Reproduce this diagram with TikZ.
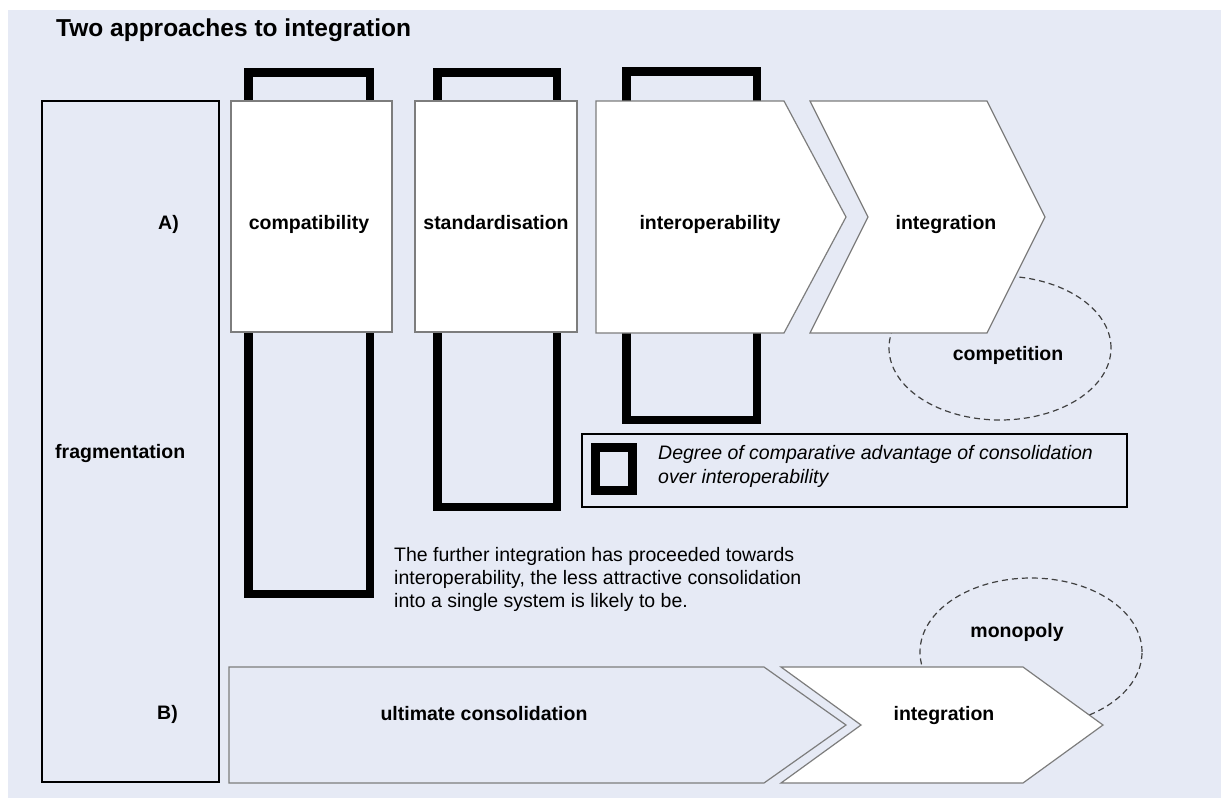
\documentclass[tikz,border=0pt]{standalone}
\usepackage{fontspec}
\setmainfont{Liberation Sans}
\definecolor{panel}{RGB}{230,234,245}
\definecolor{edge}{RGB}{125,125,125}
\tikzset{
  lbl/.style={font=\bfseries\fontsize{19.5}{23}\selectfont,text height=14pt,text depth=4pt},
  txt/.style={font=\fontsize{19.5}{23}\selectfont},
  legtxt/.style={font=\itshape\fontsize{19.5}{23}\selectfont,anchor=base west,inner sep=0},
  bar/.style={line width=8.5pt},
  card/.style={draw=edge,line width=1.2pt,fill=white},
  zone/.style={draw=black!75,line width=1.2pt,dash pattern=on 6pt off 4pt}
}
\begin{document}
\begin{tikzpicture}[x=1pt,y=-1pt]
  \useasboundingbox (0,0) rectangle (1221,798);
  \fill[panel] (8,10) rectangle (1221,798);
  \node[anchor=base west,inner sep=0,font=\bfseries\fontsize{24.5}{28}\selectfont] (title) at (56,36) {Two approaches to integration};

  \draw[line width=1.4pt] (42,101) rectangle (219,782);
  \node[lbl,anchor=west,inner sep=0] (frag) at (55,453) {fragmentation};
  \node[lbl,anchor=east,inner sep=0] (rowA) at (179,224) {A)};
  \node[lbl,anchor=east,inner sep=0] (rowB) at (178,714) {B)};

  \draw[bar] (248.25,72.25) rectangle (369.75,593.75);
  \draw[bar] (437.25,72.25) rectangle (556.75,506.75);
  \draw[bar] (626.25,71.25) rectangle (756.75,419.75);

  \draw[card] (231,101) rectangle (392,332);
  \node[lbl] (compat) at (309,224) {compatibility};
  \draw[card] (415,101) rectangle (577,332);
  \node[lbl] (stand) at (496,224) {standardisation};
  \draw[card] (596,101) -- (784,101) -- (846,217) -- (784,333) -- (596,333) -- cycle;
  \node[lbl] (interop) at (710,224) {interoperability};

  \draw[zone] (1000,348) ellipse [x radius=111pt,y radius=72pt];
  \draw[card] (810,101) -- (987,101) -- (1045,217) -- (987,333) -- (810,333) -- (868,217) -- cycle;
  \node[lbl] (integA) at (946,224) {integration};
  \node[lbl] (compete) at (1008,355) {competition};

  \draw[line width=1.3pt] (582,434) rectangle (1127,507);
  \draw[line width=9pt] (595.5,447.5) rectangle (632.5,490.5);
  \node[legtxt] (legA) at (658,459) {Degree of comparative advantage of consolidation};
  \node[legtxt] (legB) at (658,483) {over interoperability};

  \node[txt,anchor=north west,inner sep=0,align=left] (note) at (394,547.5) {The further integration has proceeded towards\\interoperability, the less attractive consolidation\\into a single system is likely to be.};

  \draw[draw=edge,line width=1.2pt,fill=panel] (229,667) -- (764,667) -- (846,725) -- (764,783) -- (229,783) -- cycle;
  \node[lbl] (consol) at (484,715) {ultimate consolidation};
  \draw[zone] (1031,652) ellipse [x radius=111pt,y radius=74pt];
  \draw[card] (781,667) -- (1023,667) -- (1103,725) -- (1023,783) -- (781,783) -- (861,725) -- cycle;
  \node[lbl] (integB) at (944,715) {integration};
  \node[lbl] (monop) at (1017,632) {monopoly};
\end{tikzpicture}
\end{document}
